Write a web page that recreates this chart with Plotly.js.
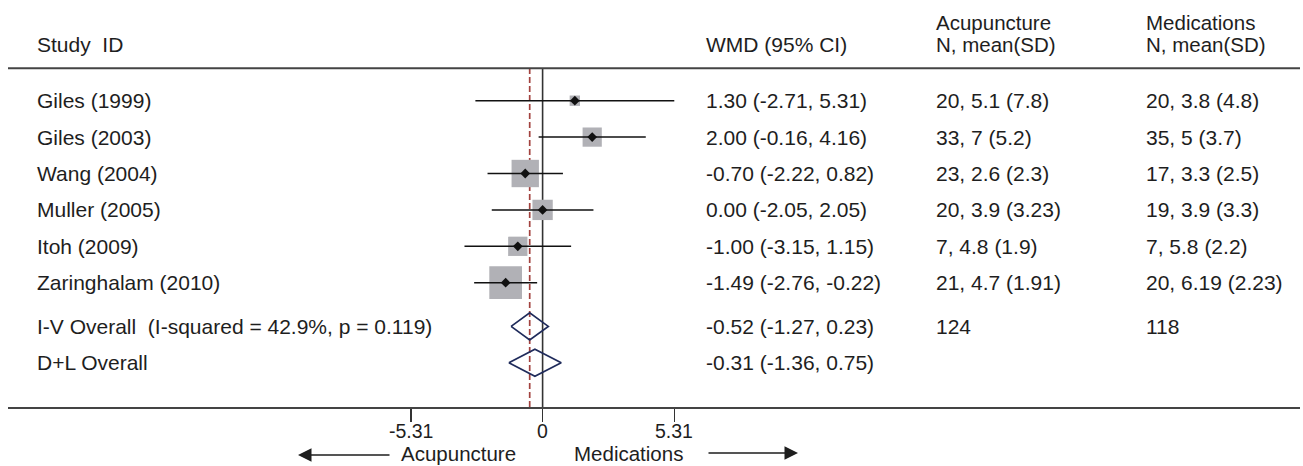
<!DOCTYPE html>
<html>
<head>
<meta charset="utf-8">
<script src="https://cdn.plot.ly/plotly-3.0.1.min.js"></script>
<style>html,body{margin:0;padding:0;background:#fff;}#chart{width:1303px;height:466px;}</style>
</head>
<body>
<div id="chart"></div>
<script>
// ---------- data ----------
const studies = ['Giles (1999)', 'Giles (2003)', 'Wang (2004)', 'Muller (2005)', 'Itoh (2009)', 'Zaringhalam (2010)'];
const wmd = [1.30, 2.00, -0.70, 0.00, -1.00, -1.49];
const ciLow = [-2.71, -0.16, -2.22, -2.05, -3.15, -2.76];
const ciHigh = [5.31, 4.16, 0.82, 2.05, 1.15, -0.22];
const weights = [3.5, 12.0, 24.3, 13.4, 12.1, 34.7];
const acuStats = ['20, 5.1 (7.8)', '33, 7 (5.2)', '23, 2.6 (2.3)', '20, 3.9 (3.23)', '7, 4.8 (1.9)', '21, 4.7 (1.91)'];
const medStats = ['20, 3.8 (4.8)', '35, 5 (3.7)', '17, 3.3 (2.5)', '19, 3.9 (3.3)', '7, 5.8 (2.2)', '20, 6.19 (2.23)'];
const overallLabels = ['I-V Overall  (I-squared = 42.9%, p = 0.119)', 'D+L Overall'];
const overallEst = [-0.52, -0.31];
const overallLow = [-1.27, -1.36];
const overallHigh = [0.23, 0.75];
const overallAcu = ['124', ''];
const overallMed = ['118', ''];
const tickVals = [-5.31, 0, 5.31];
const tickText = ['-5.31', '0', '5.31'];
const favourLabels = ['Acupuncture', 'Medications'];
const headerStudy = 'Study  ID';
const headerWmd = 'WMD (95% CI)';
const headerGroups = ['Acupuncture', 'Medications'];
const headerSub = 'N, mean(SD)';

// ---------- geometry ----------
const W = 1303, H = 466;
const ML = 8, MR = 3, MT = 0, MB = 59;
const PW = W - ML - MR, PH = H - MT - MB;
const zeroPx = 542.6, ppu = 24.8;
const xmin = -(zeroPx - ML) / ppu, xmax = xmin + PW / ppu;
const row1Px = 100.7, rowPx = 36.4;
const ytop = 1 - (row1Px - MT) / rowPx, ybot = ytop + PH / rowPx;
const px = p => (p - ML) / PW;
const py = p => (PH + MT - p) / PH;
const headerLinePx = 68.3;

const rows = studies.map((s, i) => i + 1);
const overallRows = [7.2, 8.2];

const FONT = '"Liberation Sans", Arial, Helvetica, sans-serif';
const TXT = '#1e1e1e';
const FS = 21;

const traces = [];
// weight boxes
traces.push({
  x: wmd, y: rows, type: 'scatter', mode: 'markers', hoverinfo: 'skip',
  marker: {symbol: 'square', color: '#b1b1b6', opacity: 1, size: weights.map(w => 5.55 * Math.sqrt(w)), line: {width: 0}}
});
// CI lines
const cx = [], cy = [];
rows.forEach((r, i) => { cx.push(ciLow[i], ciHigh[i], null); cy.push(r, r, null); });
traces.push({x: cx, y: cy, type: 'scatter', mode: 'lines', hoverinfo: 'skip', line: {color: '#111', width: 1.5}});
// point estimates
traces.push({
  x: wmd, y: rows, type: 'scatter', mode: 'markers', hoverinfo: 'skip',
  marker: {symbol: 'diamond', color: '#111', size: 7.5}
});
// overall diamonds
const dh = 0.37;
overallRows.forEach((r, i) => {
  traces.push({
    x: [overallLow[i], overallEst[i], overallHigh[i], overallEst[i], overallLow[i]],
    y: [r, r - dh, r, r + dh, r],
    type: 'scatter', mode: 'lines', hoverinfo: 'skip',
    line: {color: '#1f2b5b', width: 1.7}
  });
});

const ann = [];
function txt(text, xPx, y, opts) {
  return Object.assign({
    text: text, xref: 'paper', yref: 'y', x: px(xPx), y: y, xanchor: 'left', yanchor: 'middle',
    showarrow: false, font: {family: FONT, size: FS, color: TXT}
  }, opts || {});
}
const colStudy = 35, colWmd = 704, colAcu = 934, colMed = 1144;
studies.forEach((s, i) => {
  const r = rows[i];
  ann.push(txt(s, colStudy, r));
  ann.push(txt(wmd[i].toFixed(2) + ' (' + ciLow[i].toFixed(2) + ', ' + ciHigh[i].toFixed(2) + ')', colWmd, r));
  ann.push(txt(acuStats[i], colAcu, r));
  ann.push(txt(medStats[i], colMed, r));
});
overallRows.forEach((r, i) => {
  ann.push(txt(overallLabels[i], colStudy, r));
  ann.push(txt(overallEst[i].toFixed(2) + ' (' + overallLow[i].toFixed(2) + ', ' + overallHigh[i].toFixed(2) + ')', colWmd, r));
  if (overallAcu[i]) ann.push(txt(overallAcu[i], colAcu, r));
  if (overallMed[i]) ann.push(txt(overallMed[i], colMed, r));
});
// headers (paper y)
function htxt(text, xPx, yPx, xanchor, size) {
  return {text: text, xref: 'paper', yref: 'paper', x: px(xPx), y: py(yPx), xanchor: xanchor || 'left', yanchor: 'middle',
    showarrow: false, font: {family: FONT, size: size || FS, color: TXT}};
}
ann.push(htxt(headerStudy, colStudy, 45));
ann.push(htxt(headerWmd, colWmd, 45));
ann.push(htxt(headerGroups[0], colAcu, 22.5, 'left', 20.5));
ann.push(htxt(headerSub, colAcu, 45, 'left', 20.5));
ann.push(htxt(headerGroups[1], colMed, 22.5, 'left', 20.5));
ann.push(htxt(headerSub, colMed, 45, 'left', 20.5));
// tick labels (data x)
tickVals.forEach((v, i) => {
  ann.push({text: tickText[i], xref: 'x', yref: 'paper', x: v, y: py(431), xanchor: 'center', yanchor: 'middle',
    showarrow: false, font: {family: FONT, size: 19.5, color: TXT}});
});
// favour labels below the axis
const favY = 453.5;
ann.push(htxt(favourLabels[0], 518, favY, 'right', 20.5));
ann.push(htxt(favourLabels[1], 572, favY, 'left', 20.5));
// arrows
ann.push({text: '', xref: 'paper', yref: 'paper', x: px(298), y: py(favY + 1.5), ax: 93, ay: 0, showarrow: true,
  arrowhead: 2, arrowsize: 1.8, arrowwidth: 1.5, arrowcolor: '#1e1e1e'});
ann.push({text: '', xref: 'paper', yref: 'paper', x: px(798), y: py(favY - 0.5), ax: -91, ay: 0, showarrow: true,
  arrowhead: 2, arrowsize: 1.8, arrowwidth: 1.5, arrowcolor: '#1e1e1e'});

const shapes = [
  {type: 'line', xref: 'paper', yref: 'paper', x0: 0, x1: 1, y0: py(headerLinePx), y1: py(headerLinePx),
    line: {color: '#444', width: 2}},
  {type: 'line', xref: 'x', yref: 'paper', x0: 0, x1: 0, y0: 0, y1: py(headerLinePx), layer: 'below',
    line: {color: '#333', width: 1.6}},
  {type: 'line', xref: 'x', yref: 'paper', x0: overallEst[0], x1: overallEst[0], y0: 0, y1: py(headerLinePx), layer: 'below',
    line: {color: '#a2423f', width: 1.7, dash: '6px,3px'}}
];

const layout = {
  width: W, height: H,
  margin: {l: ML, r: MR, t: MT, b: MB, pad: 0},
  paper_bgcolor: '#fff', plot_bgcolor: '#fff',
  showlegend: false,
  xaxis: {
    range: [xmin, xmax], showgrid: false, zeroline: false,
    showline: true, linecolor: '#444', linewidth: 2,
    ticks: 'outside', ticklen: 13, tickwidth: 1.5, tickcolor: '#333',
    tickvals: tickVals, showticklabels: false, fixedrange: true
  },
  yaxis: {range: [ybot, ytop], visible: false, showgrid: false, zeroline: false, fixedrange: true},
  shapes: shapes,
  annotations: ann,
  font: {family: FONT, color: TXT}
};

Plotly.newPlot('chart', traces, layout, {displayModeBar: false, staticPlot: true});
</script>
</body>
</html>
